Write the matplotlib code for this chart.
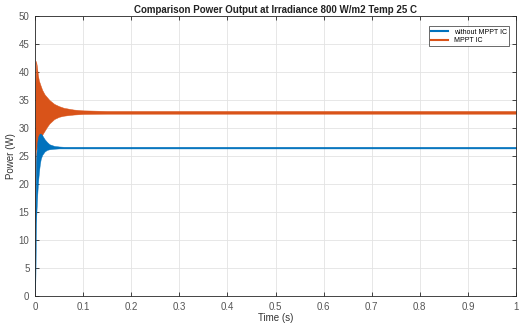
import matplotlib
matplotlib.use("Agg")
import matplotlib.pyplot as plt
import numpy as np

# Envelope of the oscillating power signals
t_ic = [0, 0.001, 0.002, 0.004, 0.006, 0.008, 0.010, 0.012, 0.015, 0.020, 0.025,
        0.030, 0.040, 0.050, 0.060, 0.080, 0.100, 0.150, 0.200, 1.0]
ic_upper = [5, 38, 42, 41, 39.5, 38.5, 38, 37.5, 36.8, 36, 35.5,
            35, 34.3, 33.9, 33.6, 33.3, 33.15, 33.05, 33.05, 33.05]
ic_lower = [0, 20, 26, 26.5, 27, 27.5, 28, 28.3, 28.8, 29.5, 30.2,
            30.8, 31.6, 32.0, 32.2, 32.4, 32.5, 32.55, 32.55, 32.55]

t_no = [0, 0.001, 0.002, 0.004, 0.006, 0.008, 0.010, 0.012, 0.015, 0.020, 0.025,
        0.030, 0.040, 0.050, 0.060, 0.100, 1.0]
no_upper = [4, 15, 24, 27, 28.3, 28.8, 29, 29, 28.7, 28.0, 27.5,
            27.1, 26.8, 26.7, 26.65, 26.65, 26.65]
no_lower = [0, 4, 13, 17, 20, 22, 23.5, 24.5, 25.2, 25.8, 26.1,
            26.2, 26.3, 26.35, 26.35, 26.35, 26.35]

x_ticks = [0, 0.1, 0.2, 0.3, 0.4, 0.5, 0.6, 0.7, 0.8, 0.9, 1]
x_labels = ["0", "0.1", "0.2", "0.3", "0.4", "0.5", "0.6", "0.7", "0.8", "0.9", "1"]
y_ticks = [0, 5, 10, 15, 20, 25, 30, 35, 40, 45, 50]

blue = "#0072BD"
orange = "#D95319"

plt.rcParams["font.family"] = ["Liberation Sans", "DejaVu Sans"]

fig = plt.figure(figsize=(5.19, 3.23), dpi=100)
ax = fig.add_axes([35 / 519, 27 / 323, 481 / 519, 280 / 323])

# orange first, blue drawn over it
ax.fill_between(t_ic, ic_lower, ic_upper, color=orange, lw=0.3, edgecolor=orange)
ax.plot([], [], color=blue, lw=1.5, label="without MPPT IC")
ax.plot([], [], color=orange, lw=1.5, label="MPPT IC")
ax.fill_between(t_no, no_lower, no_upper, color=blue, lw=0.3, edgecolor=blue)

ax.set_xlim(0, 1)
ax.set_ylim(0, 50)
ax.set_xticks(x_ticks)
ax.set_xticklabels(x_labels)
ax.set_yticks(y_ticks)
ax.grid(True, color="#e3e3e3", lw=0.6)
ax.set_axisbelow(True)
ax.tick_params(direction="in", length=3, width=0.6, labelsize=7,
               colors="#262626", labelcolor="#555555", top=True, right=True, pad=4)
for s in ax.spines.values():
    s.set_color("#262626")
    s.set_linewidth(0.6)

ax.set_title("Comparison Power Output at Irradiance 800 W/m2 Temp 25 C",
             fontsize=7, fontweight="bold", pad=2, color="#222222")
ax.set_xlabel("Time (s)", fontsize=7, labelpad=1, color="#333333")
ax.set_ylabel("Power (W)", fontsize=7, labelpad=2, color="#333333")

leg = ax.legend(loc="upper right", fontsize=5, frameon=True, fancybox=False,
                handlelength=2.5, borderpad=0.3, labelspacing=0.2,
                bbox_to_anchor=(0.992, 0.975))
leg.get_frame().set_edgecolor("#262626")
leg.get_frame().set_linewidth(0.6)

fig.savefig("out.png", dpi=100)
